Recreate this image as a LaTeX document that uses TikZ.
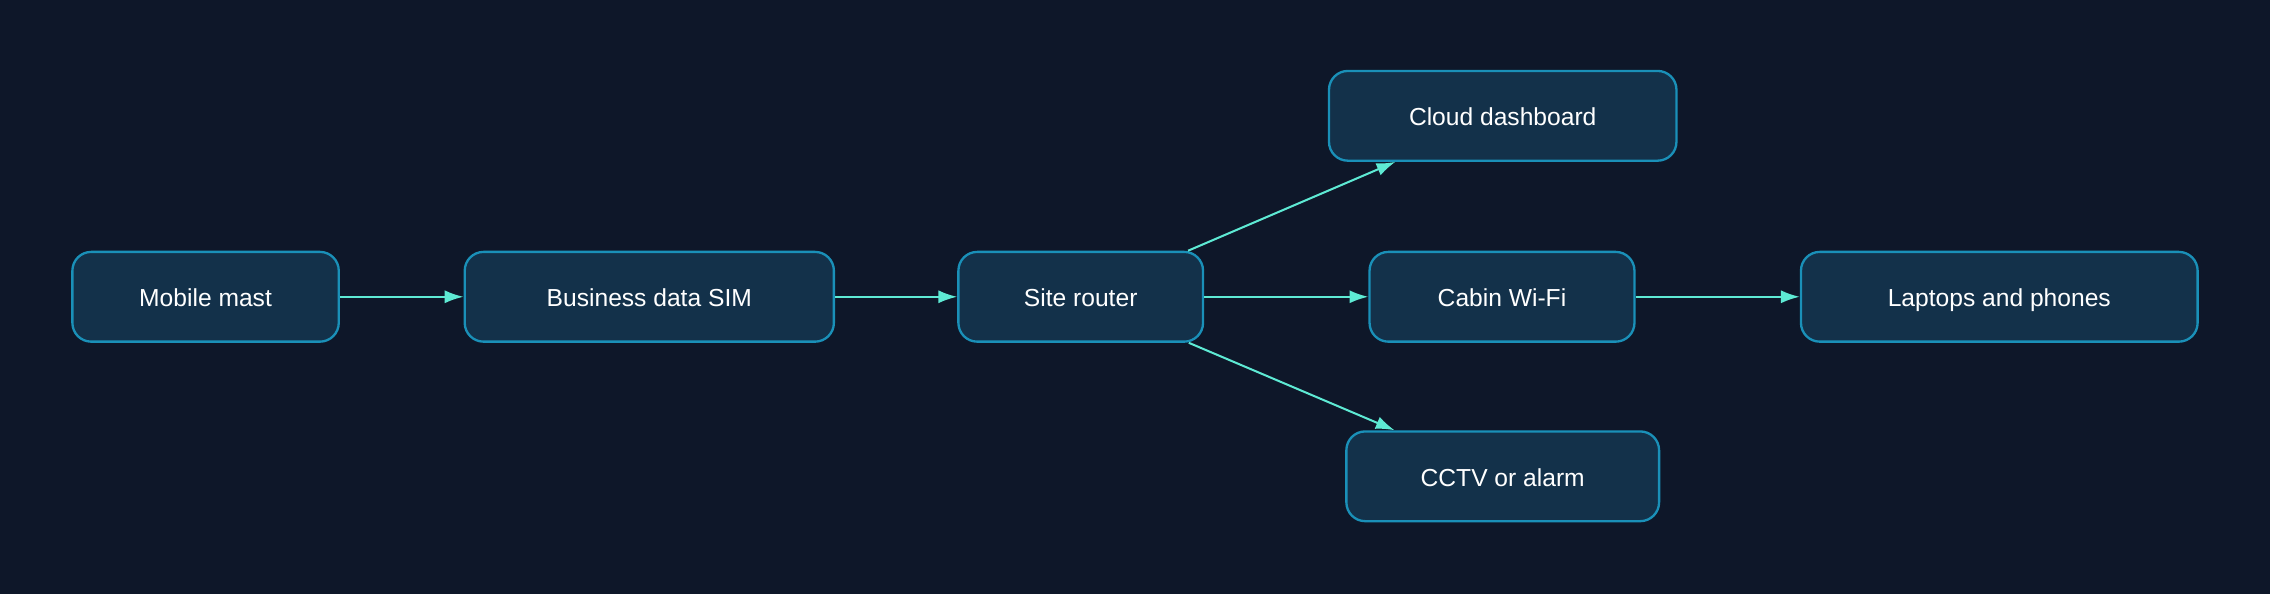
\documentclass[tikz,border=0pt]{standalone}
\usepackage{fontspec}
\setmainfont{Liberation Sans}
\usetikzlibrary{arrows.meta}
\definecolor{bg}{HTML}{0E1729}
\definecolor{nfill}{HTML}{13314A}
\definecolor{ndraw}{HTML}{1A90B8}
\definecolor{edge}{HTML}{5EEAD4}
\begin{document}
\begin{tikzpicture}[x=1pt,y=1pt,
  box/.style={draw=ndraw,fill=nfill,line width=1.6pt,rounded corners=13pt,minimum height=62pt,text=white,font=\fontsize{17}{20}\selectfont,inner sep=0pt,text height=14pt,text depth=0pt},
  arr/.style={draw=edge,line width=1.4pt,-{Latex[length=13pt,width=9pt]}}]
\fill[bg] (0,0) rectangle (1568,410);
\useasboundingbox (0,0) rectangle (1568,410);
\node[box,minimum width=184pt] (mm) at (142,205) {Mobile mast};
\node[box,minimum width=255pt] (sim) at (448.5,205) {Business data SIM};
\node[box,minimum width=169pt] (sr) at (746.5,205) {Site router};
\node[box,minimum width=240pt] (cd) at (1038,330) {Cloud dashboard};
\node[box,minimum width=183pt] (wifi) at (1037.5,205) {Cabin Wi-Fi};
\node[box,minimum width=216pt] (cctv) at (1038,81) {CCTV or alarm};
\node[box,minimum width=274pt] (lp) at (1381,205) {Laptops and phones};
\draw[arr] (mm) -- (sim);
\draw[arr] (sim) -- (sr);
\draw[arr] (sr) -- (cd);
\draw[arr] (sr) -- (wifi);
\draw[arr] (sr) -- (cctv);
\draw[arr] (wifi) -- (lp);
\end{tikzpicture}
\end{document}
